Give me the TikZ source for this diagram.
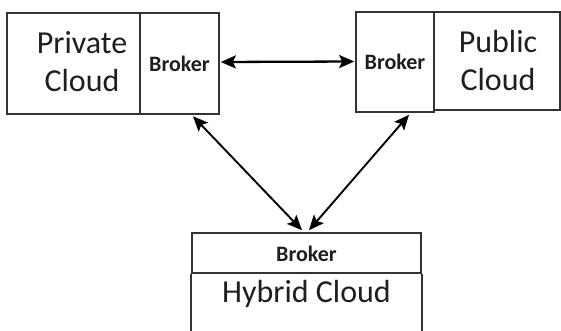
\documentclass[tikz,border=0pt]{standalone}
\usepackage{fontspec}
\setmainfont{Carlito}
\usetikzlibrary{arrows.meta,calc}
\definecolor{boxline}{HTML}{333333}
\definecolor{ink}{HTML}{1E1E1E}
\begin{document}
\begin{tikzpicture}[x=1pt,y=-1pt,
  part/.style={draw=boxline,line width=1.6pt,inner sep=0pt,anchor=center},
  bigtext/.style={text=ink,font=\fontsize{32}{38}\selectfont,align=center,inner sep=0pt},
  brokertext/.style={text=ink,font=\bfseries\fontsize{22}{26}\selectfont,inner sep=0pt},
  link/.style={draw=black,line width=1.9pt,{Stealth[length=15pt,width=13pt,inset=3pt]}-{Stealth[length=15pt,width=13pt,inset=3pt]}}]
\useasboundingbox (0,0) rectangle (561,331);
% private cloud with its broker
\node[part,minimum width=133pt,minimum height=101pt] (priv) at (73.5,63.5) {};
\node[part,minimum width=79pt,minimum height=101pt] (privb) at (179.5,63.5) {};
\node[bigtext] (privt) at (82,62) {Private\\Cloud};
\node[brokertext] (privbt) at (179.5,64) {Broker};
% public cloud with its broker
\node[part,minimum width=78pt,minimum height=100pt] (pubb) at (395,62) {};
\node[part,minimum width=126pt,minimum height=98pt] (pub) at (497,61) {};
\node[bigtext] (pubt) at (498,61) {Public\\Cloud};
\node[brokertext] (pubbt) at (395,62) {Broker};
% hybrid cloud, open at the bottom
\node[part,minimum width=229pt,minimum height=40pt] (hybb) at (306.5,253) {};
\node[brokertext] (hybbt) at (306.5,254) {Broker};
\coordinate (hbl) at ($(hybb.south west)+(0,70)$);
\coordinate (hbr) at ($(hybb.south east)+(0,70)$);
\draw[boxline,line width=1.6pt] (hybb.south west) -- (hbl) (hybb.south east) -- (hbr);
\node[bigtext] (hybt) at (306.5,294) {Hybrid Cloud};
% broker links
\draw[link,line width=2.3pt] ($(privb.east)+(1,-1.5)$) -- ($(pubb.west)+(-1,-0.5)$);
\draw[link] ($(privb.south)+(13.5,1.5)$) -- ($(hybb.north)+(-4.5,-2)$);
\draw[link] ($(pubb.south)+(14,2)$) -- ($(hybb.north)+(2.5,-2)$);
\end{tikzpicture}
\end{document}
